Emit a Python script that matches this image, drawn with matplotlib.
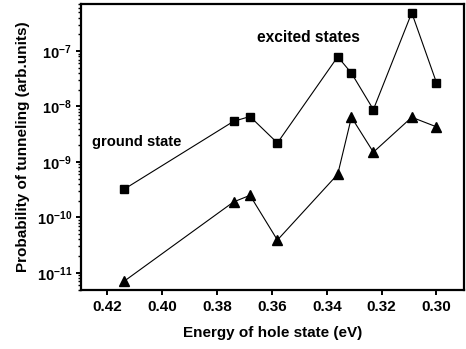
import numpy as np
import matplotlib
matplotlib.use("Agg")
import matplotlib.pyplot as plt
from matplotlib.ticker import LogLocator, NullFormatter

plt.rcParams['font.family'] = ['Liberation Sans', 'DejaVu Sans']
plt.rcParams['font.weight'] = 'bold'
plt.rcParams['axes.labelweight'] = 'bold'
plt.rcParams['mathtext.fontset'] = 'custom'
plt.rcParams['mathtext.rm'] = 'Liberation Sans:bold'
plt.rcParams['mathtext.default'] = 'rm'

# energy of hole state (eV)
energy = [0.414, 0.374, 0.368, 0.358, 0.336, 0.331, 0.323, 0.309, 0.300]
# tunnelling probability, upper curve (squares) and lower curve (triangles)
prob_squares = [3.2e-10, 5.4e-9, 6.6e-9, 2.2e-9, 7.9e-8, 4.0e-8, 8.8e-9, 4.9e-7, 2.7e-8]
prob_triangles = [7.0e-12, 1.9e-10, 2.5e-10, 3.9e-11, 6.0e-10, 6.4e-9, 1.5e-9, 6.4e-9, 4.3e-9]
x_ticks = [0.42, 0.40, 0.38, 0.36, 0.34, 0.32, 0.30]
y_ticks = [1e-11, 1e-10, 1e-9, 1e-8, 1e-7]
y_ticklabels = [r'$10^{-11}$', r'$10^{-10}$', r'$10^{-9}$', r'$10^{-8}$', r'$10^{-7}$']

fig = plt.figure(figsize=(4.66, 3.49), dpi=100)
ax = fig.add_axes([0.174, 0.169, 0.822, 0.819])

ax.plot(energy, prob_squares, color='black', lw=0.8, marker='s', ms=6)
ax.plot(energy, prob_triangles, color='black', lw=0.8, marker='^', ms=7.5)

ax.set_yscale('log')
ax.set_xlim(0.4296, 0.2899)
ax.set_ylim(4.9e-12, 7e-7)
ax.set_xticks(x_ticks)
ax.set_xticklabels([f"{t:.2f}" for t in x_ticks])
ax.set_yticks(y_ticks)
ax.set_yticklabels(y_ticklabels)
ax.yaxis.set_minor_locator(LogLocator(base=10, subs=np.arange(2, 10), numticks=20))
ax.yaxis.set_minor_formatter(NullFormatter())

for s in ax.spines.values():
    s.set_linewidth(1.6)
ax.tick_params(which='major', direction='out', length=3.5, width=1.4)
ax.tick_params(axis='x', labelsize=11, pad=4)
ax.tick_params(axis='y', labelsize=10.5, pad=3)
ax.tick_params(which='minor', direction='out', length=2, width=1.0)

ax.set_xlabel('Energy of hole state (eV)', fontsize=11, fontweight='bold', labelpad=8)
ax.set_ylabel('Probability of tunneling (arb.units)', fontsize=11, fontweight='bold', labelpad=5)

ax.text(0.3468, 1.43e-7, 'excited states', fontsize=11.2, ha='center', va='baseline')
ax.text(0.4255, 1.97e-9, 'ground state', fontsize=10.6, ha='left', va='baseline')

fig.savefig('out.png', dpi=100)
